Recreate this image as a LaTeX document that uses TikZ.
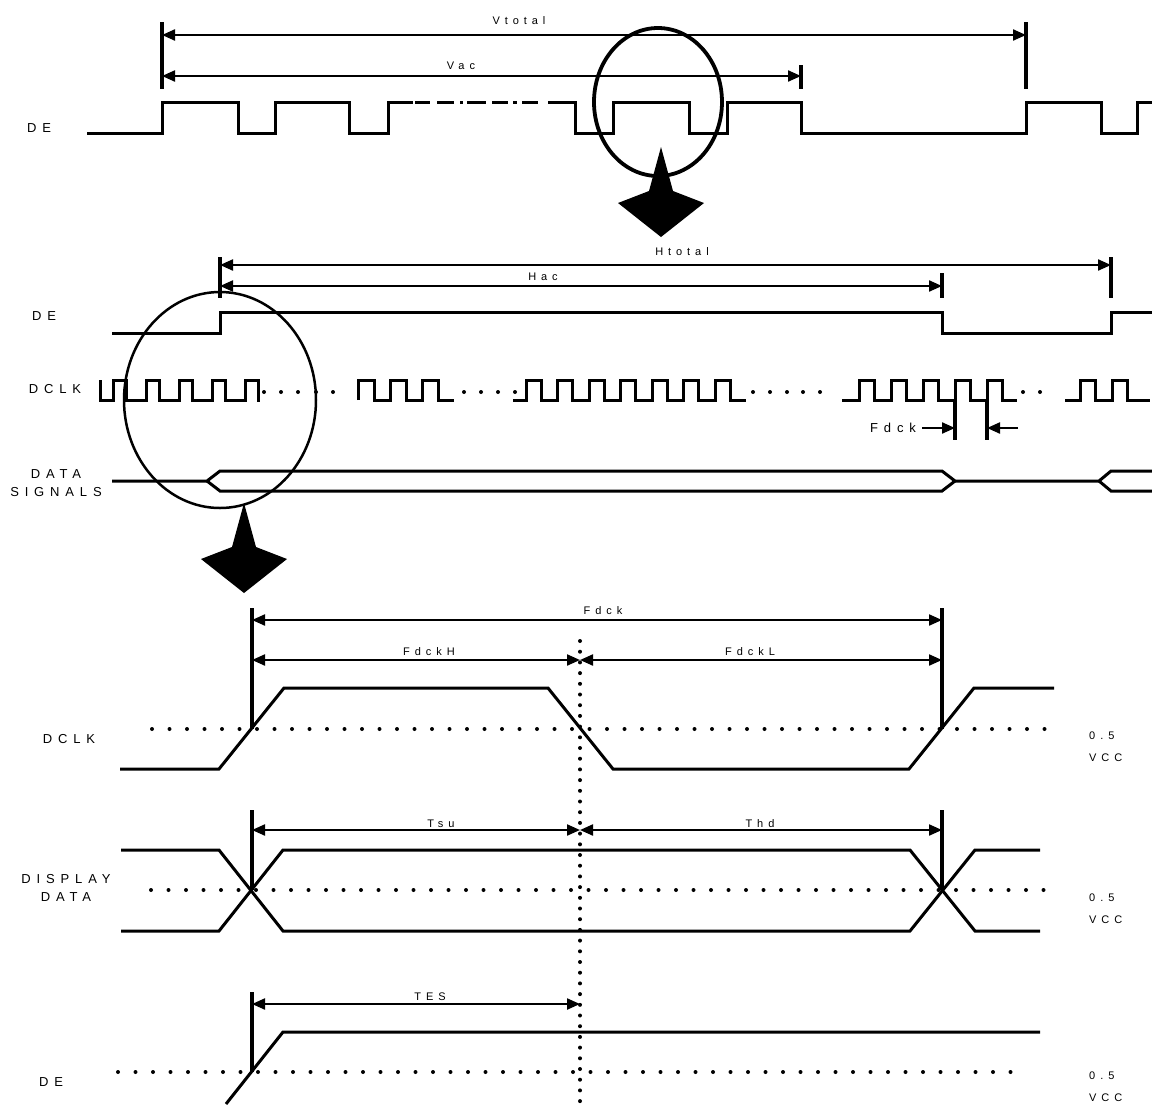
\documentclass[tikz,border=0pt]{standalone}
\usepackage{fontspec}
\setmainfont{Liberation Sans}
\newfontfamily\spacedfont[LetterSpace=45]{Liberation Sans}
\usetikzlibrary{arrows.meta, positioning}

\begin{document}
\begin{tikzpicture}
    [
        x=1pt, y=-1pt,
        wave/.style = {
            line width=3pt, line join=miter
            },
        limit/.style = {
            line width=3.2pt
            },
        dimension/.style = {
            line width=2.2pt, {Triangle[length=13pt, width=11pt]}-{Triangle[length=13pt, width=11pt]}
            },
        pointer/.style = {
            line width=2.2pt, -{Triangle[length=13pt, width=11pt]}
            },
        halfline/.style = {
            line width=4pt, line cap=round, dash pattern=on 0pt off 17.5pt
            },
        rowlabel/.style = {
            font=\spacedfont\fontsize{13}{18.5}\selectfont, inner sep=0pt, align=center
            },
        dimlabel/.style = {
            font=\spacedfont\fontsize{11}{13}\selectfont, inner sep=0pt
            },
        lens/.style = {
            draw, line width=3.8pt
            },
    ]
    \useasboundingbox (0,0) rectangle (1152,1104);
    %row labels
    \node[rowlabel] (top de) at (39,128) {DE};
    \node[rowlabel] (mid de) at (44,316) {DE};
    \node[rowlabel] (mid dclk) at (55,389) {DCLK};
    \node[rowlabel] (mid data) at (56,483) {DATA\\SIGNALS};
    \node[rowlabel] (low dclk) at (69,739) {DCLK};
    \node[rowlabel] (low data) at (66,888) {DISPLAY\\DATA};
    \node[rowlabel] (low de) at (51,1082) {DE};
    \foreach \ly/\nm in {736/dclk, 898/data, 1076/de} {
        \node[dimlabel, anchor=west] (half \nm) at (1089,\ly) {0.5};
        \node[dimlabel, anchor=west] (vcc \nm) at (1089,\ly+22) {VCC};
    }
    %dimension labels
    \node[dimlabel] (vtotal) at (519,21) {Vtotal};
    \node[dimlabel] (vac) at (461,66) {Vac};
    \node[dimlabel] (htotal) at (682,252) {Htotal};
    \node[dimlabel] (hac) at (543,277) {Hac};
    \node[rowlabel] (fdck period) at (893,428) {Fdck};
    \node[dimlabel] (fdck) at (603,611) {Fdck};
    \node[dimlabel] (fdckh) at (429,652) {FdckH};
    \node[dimlabel] (fdckl) at (750,652) {FdckL};
    \node[dimlabel] (tsu) at (441,824) {Tsu};
    \node[dimlabel] (thd) at (760,824) {Thd};
    \node[dimlabel] (tes) at (430,997) {TES};

    %frame timing
    \draw[limit] (162,22) -- (162,89);
    \draw[limit] (1026,22) -- (1026,89);
    \draw[limit] (801,65) -- (801,89);
    \draw[dimension] (162,35) -- (1026,35);
    \draw[dimension] (162,76) -- (801,76);
    \draw[wave] (87,133) -- (162,133) -- (162,102) -- (238,102) -- (238,133) -- (275,133) -- (275,102)
        -- (349,102) -- (349,133) -- (388,133) -- (388,102) -- (413,102);
    \foreach \a/\b in {415/430, 437/454, 460/463, 467/486, 492/508, 513/517, 522/538}
        \draw[wave] (\a,102) -- (\b,102);
    \draw[wave] (548,102) -- (575,102) -- (575,133) -- (613,133) -- (613,102) -- (689,102) -- (689,133)
        -- (727,133) -- (727,102) -- (801,102) -- (801,133) -- (1026,133) -- (1026,102) -- (1101,102)
        -- (1101,133) -- (1137,133) -- (1137,102) -- (1152,102);
    \draw[lens] (658,102) ellipse [x radius=64pt, y radius=74pt];

    %line timing
    \draw[limit] (220,257) -- (220,298);
    \draw[limit] (1111,257) -- (1111,298);
    \draw[limit] (942,273) -- (942,298);
    \draw[dimension] (220,265) -- (1111,265);
    \draw[dimension] (220,286) -- (942,286);
    \draw[wave] (112,333) -- (220,333) -- (220,312) -- (942,312) -- (942,333) -- (1111,333) -- (1111,312) -- (1152,312);
    \draw[wave] (100,380) -- (100,400) foreach \r in {113,146,179,212,245} {
        -- (\r,400) -- (\r,380) -- ({\r+13},380) -- ({\r+13},400) } -- (260,400);
    \draw[wave] (358,400) foreach \r in {358,390,422} {
        -- (\r,400) -- (\r,380) -- ({\r+16},380) -- ({\r+16},400) } -- (454,400);
    \draw[wave] (513,400) foreach \r in {526,557.5,589,620.5,652,683.5,715} {
        -- (\r,400) -- (\r,380) -- ({\r+15},380) -- ({\r+15},400) } -- (746,400);
    \draw[wave] (842,400) foreach \r in {859,891,923,955,987} {
        -- (\r,400) -- (\r,380) -- ({\r+15},380) -- ({\r+15},400) } -- (1017,400);
    \draw[wave] (1065,400) foreach \r in {1080,1112} {
        -- (\r,400) -- (\r,380) -- ({\r+15},380) -- ({\r+15},400) } -- (1150,400);
    \foreach \d in {264,281,298,316,333, 464,481,498,515, 753,770,787,803,820, 1023,1040}
        \fill (\d,392) circle (2pt);
    \draw[limit] (955,400) -- (955,440);
    \draw[limit] (987,400) -- (987,440);
    \draw[pointer] (922,428) -- (955,428);
    \draw[pointer] (1018,428) -- (987,428);
    \draw[wave] (112,481) -- (207,481) -- (220,471) -- (942,471) -- (955,481) -- (1099,481) -- (1111,471) -- (1152,471);
    \draw[wave] (207,481) -- (220,491) -- (942,491) -- (955,481);
    \draw[wave] (1099,481) -- (1111,491) -- (1152,491);
    \draw[lens, line width=2.5pt] (220,400) ellipse [x radius=96pt, y radius=108pt];

    %zoom arrows
    \foreach \ax/\ay in {661/147, 244/503}
        \fill[shift={(\ax,\ay)}] (0,0) -- (12,44) -- (43,56) -- (0,90) -- (-43,56) -- (-12,44) -- cycle;

    %clock detail
    \draw[halfline, dash pattern=on 0pt off 10.7pt] (580,641) -- (580,1104);
    \draw[limit] (252,608) -- (252,729);
    \draw[limit] (942,608) -- (942,729);
    \draw[dimension] (252,620) -- (942,620);
    \draw[dimension] (252,660) -- (580,660);
    \draw[dimension] (580,660) -- (942,660);
    \draw[halfline] (152,729) -- (1059,729);
    \draw[wave] (120,769) -- (219,769) -- (284,688) -- (548,688) -- (613,769) -- (909,769) -- (974,688) -- (1054,688);

    %data detail
    \draw[limit] (252,810) -- (252,890);
    \draw[limit] (942,810) -- (942,890);
    \draw[dimension] (252,830) -- (580,830);
    \draw[dimension] (580,830) -- (942,830);
    \draw[halfline] (151,890) -- (1058,890);
    \draw[wave] (121,850) -- (219,850) -- (283,931) -- (910,931) -- (975,850) -- (1040,850);
    \draw[wave] (121,931) -- (219,931) -- (283,850) -- (910,850) -- (975,931) -- (1040,931);

    %enable detail
    \draw[limit] (252,992) -- (252,1072);
    \draw[dimension] (252,1004) -- (580,1004);
    \draw[halfline] (118,1072) -- (1025,1072);
    \draw[wave] (226,1104) -- (283,1032) -- (1040,1032);

\end{tikzpicture}
\end{document}
